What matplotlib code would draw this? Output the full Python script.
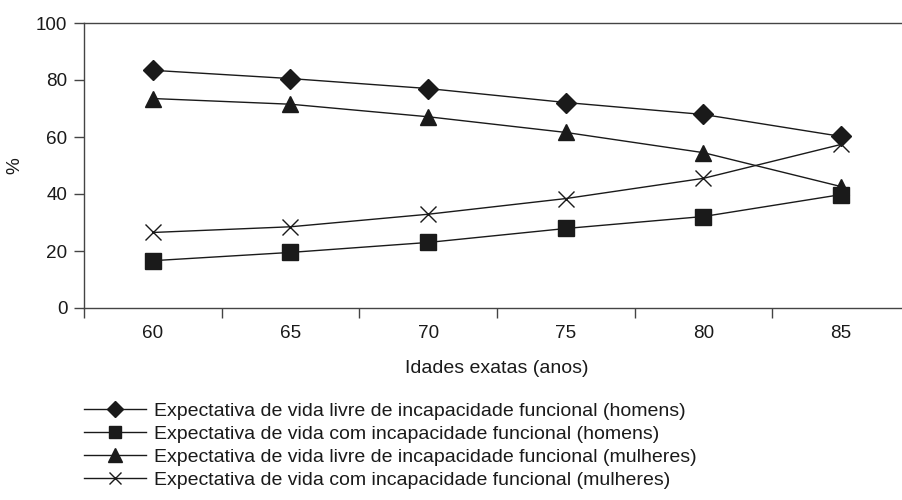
import matplotlib.pyplot as plt
from matplotlib.ticker import FixedLocator, NullFormatter

plt.rcParams['font.family'] = ['Liberation Sans', 'DejaVu Sans']

# Data
idades = ['60', '65', '70', '75', '80', '85']
livre_homens = [83.4, 80.5, 77.0, 72.1, 67.9, 60.2]
com_homens = [16.6, 19.5, 23.0, 27.9, 32.1, 39.8]
livre_mulheres = [73.5, 71.5, 67.1, 61.6, 54.5, 42.6]
com_mulheres = [26.5, 28.5, 32.9, 38.4, 45.5, 57.4]

labels = [
    'Expectativa de vida livre de incapacidade funcional (homens)',
    'Expectativa de vida com incapacidade funcional (homens)',
    'Expectativa de vida livre de incapacidade funcional (mulheres)',
    'Expectativa de vida com incapacidade funcional (mulheres)',
]

cor = '#1a1a1a'
fs = 13.6
fs_leg = 14.0
fig = plt.figure(figsize=(9.02, 5.0), dpi=100)
ax = fig.add_axes([84 / 902, 192 / 500, 826 / 902, 285 / 500])

x = range(len(idades))
h1, = ax.plot(x, livre_homens, color=cor, lw=1.0, marker='D', ms=10, label=labels[0])
h2, = ax.plot(x, com_homens, color=cor, lw=1.0, marker='s', ms=11, label=labels[1])
h3, = ax.plot(x, livre_mulheres, color=cor, lw=1.0, marker='^', ms=12, label=labels[2])
h4, = ax.plot(x, com_mulheres, color=cor, lw=1.0, marker='x', ms=11, mew=1.0, label=labels[3])

ax.set_xlim(-0.5, 5.5)
ax.set_ylim(0, 100)
ax.set_yticks([0, 20, 40, 60, 80, 100])
ax.xaxis.set_major_locator(FixedLocator([i - 0.5 for i in range(7)]))
ax.xaxis.set_major_formatter(NullFormatter())
ax.xaxis.set_minor_locator(FixedLocator(list(x)))
ax.set_xticklabels(idades, minor=True)
ax.tick_params(axis='x', which='major', length=7, width=1, color='#444444', direction='out')
ax.tick_params(axis='x', which='minor', length=0, labelsize=fs, pad=12, labelcolor=cor)
ax.tick_params(axis='y', length=7, width=1, color='#444444', labelsize=fs, labelcolor=cor, pad=5)

for s in ['left', 'bottom', 'top']:
    ax.spines[s].set_color('#444444')
    ax.spines[s].set_linewidth(1.0)
ax.spines['right'].set_visible(False)

ax.set_xlabel('Idades exatas (anos)', fontsize=fs_leg, color=cor, labelpad=13)
ax.set_ylabel('%', fontsize=fs, color=cor, labelpad=9)

fig.legend(handles=[h1, h2, h3, h4], loc='upper left', bbox_to_anchor=(84 / 902, 1 - 402 / 500),
           frameon=False, fontsize=fs_leg, handlelength=3.2, handletextpad=0.4,
           labelspacing=0.28, borderpad=0, borderaxespad=0, markerscale=0.85,
           labelcolor=cor)

fig.savefig('out.png', dpi=100)
